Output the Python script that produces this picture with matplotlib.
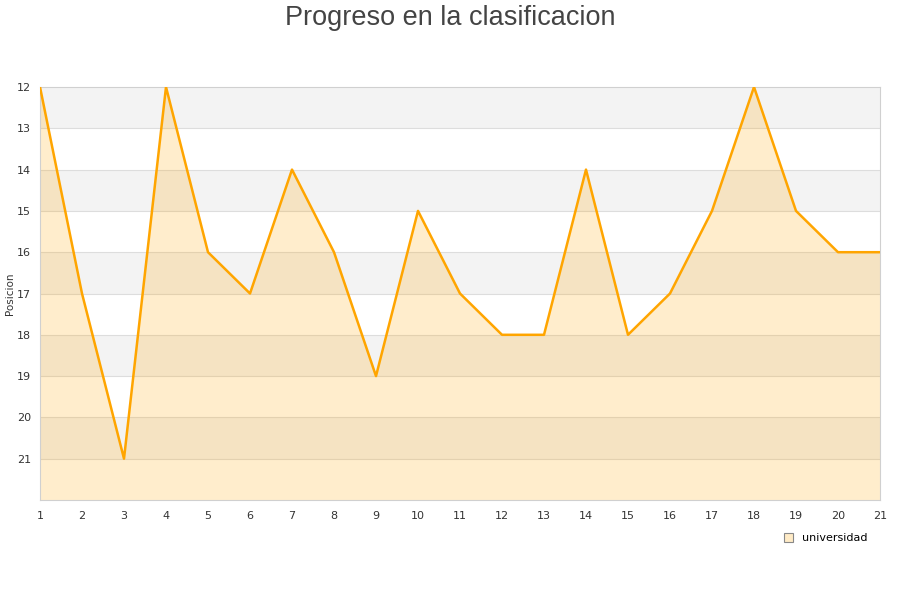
import matplotlib
matplotlib.use("Agg")
from matplotlib import pyplot as plt

# data
jornadas = list(range(1, 22))
posicion = [12, 17, 21, 12, 16, 17, 14, 16, 19, 15, 17, 18, 18, 14, 18, 17, 15, 12, 15, 16, 16]
serie = "universidad"
titulo = "Progreso en la clasificacion"

fig = plt.figure(figsize=(9, 6), dpi=100)
ax = fig.add_axes([40 / 900, 1 - 500 / 600, 840 / 900, 413 / 600])

# alternating bands
for y0 in range(12, 22, 2):
    ax.axhspan(y0, y0 + 1, color="#f3f3f3", zorder=0, lw=0)
for y in range(13, 22):
    ax.axhline(y, color="#dddddd", lw=0.8, zorder=1)

ax.fill_between(jornadas, posicion, 22, color="#ffa500", alpha=0.2, lw=0, zorder=2)
ax.plot(jornadas, posicion, color="#ffa500", lw=1.8, zorder=3)

ax.set_xlim(1, 21)
ax.set_ylim(22, 12)
ax.set_xticks(jornadas)
ax.set_yticks(range(12, 22))
ax.tick_params(axis="x", length=0, labelsize=8, colors="#333333", pad=8)
ax.tick_params(axis="y", length=0, labelsize=8, colors="#333333", pad=6.5)
for s in ax.spines.values():
    s.set_color("#d0d0d0")
ax.set_ylabel("Posicion", fontsize=7.5, color="#333333")
ax.yaxis.set_label_coords(-25 / 840, 0.5)

fig.text(0.5, 0.992, titulo, ha="center", va="top", fontsize=19.5,
         family="Liberation Sans", color="#444444")

leg = fig.legend(handles=[plt.Rectangle((0, 0), 1, 1, fc="#ffebc6", ec="#888888", lw=0.8)],
                 labels=[serie], loc="upper right", bbox_to_anchor=(0.975, 0.128),
                 frameon=False, fontsize=8, handlelength=0.8, handleheight=0.8,
                 handletextpad=0.8)

fig.savefig("out.png", dpi=100)
